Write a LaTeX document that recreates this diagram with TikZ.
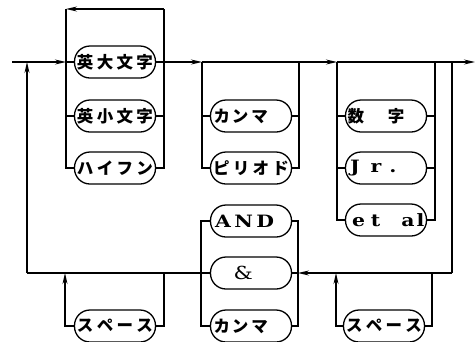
\documentclass[tikz,border=0pt]{standalone}
\usepackage{fontspec}
\newfontfamily\jpfont{Noto Sans CJK JP}
\newfontfamily\lfont[FakeStretch=1.2]{DejaVu Serif}
\usetikzlibrary{arrows.meta}

% Japanese label spread across the box / left-aligned label
\newcommand\jspread[1]{{\jpfont\bfseries\fontsize{16.5}{16.5}\selectfont\makebox[76pt][s]{#1}}}
\newcommand\jleft[1]{{\jpfont\bfseries\fontsize{16.5}{16.5}\selectfont\makebox[77pt][l]{#1}}}
\newcommand\lleft[1]{{\lfont\bfseries\fontsize{17}{17}\selectfont\makebox[77pt][l]{#1}}}

\begin{document}
\begin{tikzpicture}[x=1pt,y=-1pt,line width=1.3pt,
  term/.style={draw,rounded corners=15.5pt,minimum width=81pt,minimum height=32pt,inner sep=0pt},
  flow/.style={-{Stealth[length=11pt,width=5pt]}}]
\useasboundingbox (0,0) rectangle (475,341);

% terminal boxes
\node[term] (b1) at (115,62)  {\jspread{英\hfil 大\hfil 文\hfil 字}};
\node[term] (b2) at (115,116) {\jspread{英\hfil 小\hfil 文\hfil 字}};
\node[term] (b3) at (115,168) {\jspread{ハ\hfil イ\hfil フ\hfil ン}};
\node[term] (c1) at (251,116) {\jleft{\hspace{1pt}カ\hspace{2pt}ン\hspace{3pt}マ}};
\node[term] (c2) at (251,168) {\jspread{ピ\hfil リ\hfil オ\hfil ド}};
\node[term] (d1) at (386,116) {\jleft{数\hspace{24pt}字}};
\node[term] (d2) at (386,168) {\lleft{\hspace{2.5pt}J\hspace{11pt}r\hspace{8pt}.}};
\node[term] (d3) at (386,220) {\lleft{\hspace{4.5pt}e\hspace{6pt}t\hspace{21pt}a\hspace{2pt}l}};
\node[term] (e1) at (251,221) {\lleft{\hspace{2.5pt}A\hspace{3.5pt}N\hspace{3.5pt}D}};
\node[term] (e2) at (251,273) {\lleft{\hspace{21pt}\mdseries\fontsize{18}{18}\selectfont\&}};
\node[term] (e3) at (251,326) {\jleft{\hspace{1pt}カ\hspace{2pt}ン\hspace{3pt}マ}};
\node[term] (s1) at (115,326) {\jspread{ス\hfil ペ\hfil ー\hfil ス}};
\node[term] (s2) at (384,326) {\jspread{ス\hfil ペ\hfil ー\hfil ス}};

% rail positions
\coordinate (start) at (12,62);
\coordinate (g1l) at (66,9);
\coordinate (g1r) at (164,9);
\coordinate (g2l) at (202,62);
\coordinate (g2r) at (299,62);
\coordinate (g3l) at (337,62);
\coordinate (g3r) at (435,62);
\coordinate (outr) at (452,62);
\coordinate (fin) at (475,62);
\coordinate (ret) at (27,62);
\coordinate (br) at (452,273);
\coordinate (bl) at (27,273);
\coordinate (agl) at (201,221);
\coordinate (agr) at (298,221);
\coordinate (s1r) at (164,273);
\coordinate (s1l) at (65,273);
\coordinate (s2r) at (432,273);
\coordinate (s2l) at (336,273);

% main line
\draw[flow] (start) -- (start -| g1l);
\draw (start -| g1l) -- (b1.west);
\draw[flow] (b1.east) -- (g2l);
\draw[flow] (g2l) -- (g3l);
\draw (g3l) -- (outr);
\draw[flow] (outr) -- (fin);

% first group with its repeat loop
\draw (g1l) -- (g1l |- b3.west) -- (b3.west);
\draw (g1l |- b2.west) -- (b2.west);
\draw (g1r) -- (g1r |- b3.east) -- (b3.east);
\draw (b2.east) -- (b2.east -| g1r);
\draw[flow] (g1r) -- (g1l);

% second group
\draw (g2l) -- (g2l |- c2.west) -- (c2.west);
\draw (g2l |- c1.west) -- (c1.west);
\draw (g2r) -- (g2r |- c2.east) -- (c2.east);
\draw (c1.east) -- (c1.east -| g2r);

% third group
\draw (g3l) -- (g3l |- d3.west) -- (d3.west);
\draw (g3l |- d1.west) -- (d1.west);
\draw (g3l |- d2.west) -- (d2.west);
\draw (g3r) -- (g3r |- d3.east) -- (d3.east);
\draw (d1.east) -- (d1.east -| g3r);
\draw (d2.east) -- (d2.east -| g3r);

% return path
\draw (outr) -- (br);
\draw[flow] (br) -- (br -| agr);
\draw (e1.east) -- (agr) -- (agr |- e3.east) -- (e3.east);
\draw (e2.east) -- (e2.east -| agr);
\draw (e1.west) -- (agl) -- (agl |- e3.west) -- (e3.west);
\draw (e2.west) -- (e2.west -| agl);
\draw (e2.west -| agl) -- (bl);
\draw[flow] (bl) -- (ret);

% optional spaces on the return path
\draw (s1r) -- (s1r |- s1.east) -- (s1.east);
\draw[flow] (s1.west) -- (s1.west -| s1l) -- (s1l);
\draw (s2r) -- (s2r |- s2.east) -- (s2.east);
\draw[flow] (s2.west) -- (s2.west -| s2l) -- (s2l);
\end{tikzpicture}
\end{document}
